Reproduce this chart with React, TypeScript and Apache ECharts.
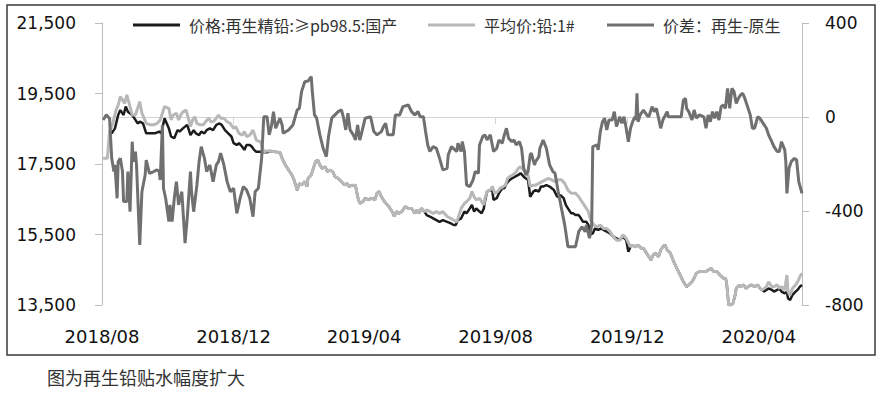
import React, { useEffect, useRef } from "react";
import * as echarts from "echarts";

// Day offsets are counted from 2018-08-01.
const NAME_RECYCLED = "价格:再生精铅:≥pb98.5:国产";
const NAME_AVG = "平均价:铅:1#";
const NAME_SPREAD = "价差：再生-原生";

const recycledDaysA = [7, 9, 12, 15, 17, 20, 22, 24, 28, 31, 33, 35, 38, 41, 45, 49, 53, 55, 58, 62, 64, 67, 70, 72, 75, 77, 79, 81, 82, 85, 87, 90, 92, 95, 97, 100, 103, 106, 109, 111, 114, 117, 120, 122, 125, 127, 130, 132, 134, 137, 139, 141, 143, 147, 150, 153, 156, 160, 165];
const recycledPriceA = [18420, 18370, 18510, 18890, 19030, 18890, 19130, 18980, 18890, 18750, 18650, 18700, 18650, 18370, 18370, 18370, 18420, 18370, 18800, 18510, 18280, 18230, 18460, 18420, 18510, 18560, 18610, 18420, 18320, 18460, 18370, 18320, 18420, 18370, 18460, 18510, 18460, 18610, 18650, 18610, 18460, 18370, 18280, 18090, 18040, 18090, 17990, 17900, 18040, 18040, 17990, 17900, 17850, 17850, 17830, 17830, 17870, 17850, 17830];

const avgDaysA = [1, 5, 7, 10, 13, 15, 17, 19, 21, 23, 26, 28, 31, 33, 35, 37, 39, 41, 45, 48, 51, 54, 56, 58, 62, 64, 66, 69, 71, 73, 75, 78, 80, 82, 84, 86, 88, 91, 94, 96, 99, 101, 103, 106, 108, 110, 113, 116, 119, 122, 124, 127, 130, 132, 134, 137, 140, 142, 143, 147, 150, 153, 156, 160, 165];
const avgPriceA = [17660, 17660, 18420, 18650, 19030, 19170, 19410, 19320, 19220, 19460, 19130, 18890, 18890, 19080, 19270, 18940, 18800, 18650, 18610, 18610, 18650, 18750, 18940, 19130, 19080, 18750, 18890, 18940, 18750, 18890, 18980, 19030, 18800, 18560, 18750, 18840, 18650, 18610, 18610, 18700, 18800, 18700, 18700, 18800, 18890, 18800, 18800, 18700, 18650, 18510, 18560, 18370, 18320, 18420, 18280, 18320, 18460, 18280, 18180, 18130, 17850, 17870, 17870, 17850, 17830];

// stretch where both price lines coincide
const sharedDaysB = [167, 170, 173, 176, 178, 181, 183, 185, 188, 190, 191, 194, 196, 198, 200, 202, 204, 207, 209, 211, 214, 216, 219, 222, 225, 227, 229, 232, 235, 237, 239, 242, 244, 247, 250, 253, 255, 257, 259, 262, 266, 269, 271, 273, 275, 278, 281, 284, 287, 290, 292, 294, 296, 299];
const sharedPriceB = [17660, 17470, 17330, 17190, 17050, 16760, 16950, 16900, 17000, 16860, 17090, 17190, 17380, 17570, 17610, 17470, 17380, 17420, 17280, 17330, 17280, 17140, 17090, 17000, 16900, 16950, 16860, 16900, 16900, 16570, 16380, 16430, 16530, 16480, 16530, 16480, 16670, 16720, 16570, 16430, 16290, 16150, 16010, 16150, 16100, 16150, 16290, 16240, 16240, 16100, 16200, 16100, 16240, 16150];

const recycledDaysC = [301, 304, 307, 310, 313, 316, 320, 323, 326, 328, 330, 333, 336, 338, 341, 343, 345, 347, 350, 352, 354, 355, 357, 360, 362, 363, 366, 368, 371, 373, 375, 378, 380, 383, 386, 388, 391, 393, 395, 397, 400, 402, 405, 407, 409, 412, 415, 417, 419, 422, 425, 428, 430, 432, 435, 437, 439, 442, 444, 446, 449, 451, 452, 455, 457, 460, 463, 465, 468, 471, 474, 477, 480, 483, 486, 488];
const recycledPriceC = [16050, 16010, 15960, 15910, 15860, 15910, 15860, 15820, 15770, 15770, 15910, 15960, 16150, 16100, 16240, 16340, 16150, 16240, 16150, 16100, 16240, 16430, 16720, 16760, 16720, 16480, 16530, 16670, 16810, 16810, 16950, 17050, 17090, 17140, 17190, 17240, 17140, 17090, 17050, 16570, 16720, 16760, 16720, 16860, 16860, 16900, 16860, 16810, 16760, 16570, 16620, 16530, 16340, 16240, 16100, 16100, 16050, 16050, 15960, 15860, 15860, 15770, 15490, 15530, 15670, 15630, 15670, 15630, 15580, 15530, 15440, 15390, 15340, 15440, 15340, 15010];

const avgDaysC = [301, 304, 307, 310, 313, 316, 320, 323, 326, 329, 331, 333, 336, 338, 341, 343, 345, 347, 350, 352, 354, 355, 357, 360, 362, 364, 367, 369, 372, 374, 376, 378, 381, 384, 386, 388, 391, 393, 395, 397, 400, 402, 405, 408, 411, 414, 417, 420, 423, 426, 429, 432, 435, 439, 442, 445, 448, 451, 453, 456, 459, 462, 465, 468, 471, 474, 477, 480, 483, 486];
const avgPriceC = [16200, 16150, 16100, 16150, 16100, 16150, 16010, 15960, 15910, 15860, 16050, 16240, 16380, 16430, 16530, 16720, 16570, 16480, 16530, 16430, 16340, 16530, 16720, 16760, 16860, 16670, 16720, 16810, 16860, 16900, 17090, 17140, 17190, 17280, 17380, 17420, 17330, 17280, 17190, 16860, 16900, 16900, 16950, 17000, 17050, 17090, 17050, 17000, 17050, 17050, 16950, 16760, 16670, 16670, 16570, 16430, 16290, 16150, 15910, 15770, 15720, 15770, 15670, 15670, 15580, 15440, 15340, 15340, 15490, 15390];

const sharedDaysD = [490, 492, 494, 497, 500, 502, 504, 507, 509, 511, 513, 516, 518, 520, 522, 524, 527, 530, 533, 536, 539, 542, 544, 547, 549, 551, 554, 557, 560, 562, 565, 567, 570, 573, 576, 578, 579, 581, 583, 585, 587, 588, 591, 592, 595, 597, 599, 602, 605, 608, 610, 612];
const sharedPriceD = [15150, 15200, 15150, 15200, 15110, 15110, 15010, 14870, 14780, 14920, 14970, 14870, 15060, 15150, 15200, 15060, 14970, 14730, 14540, 14350, 14160, 14020, 14070, 14160, 14260, 14400, 14450, 14450, 14450, 14490, 14540, 14450, 14450, 14350, 14260, 14260, 14160, 13500, 13500, 13550, 13780, 13970, 14070, 14020, 14070, 13970, 14020, 14070, 14020, 14070, 13970, 13930];

const tailDays = [614, 616, 618, 621, 623, 626, 628, 630, 633, 635, 636, 638, 640, 643, 645, 647, 649];
const recycledPriceE = [13880, 13930, 13970, 13930, 13880, 13930, 13970, 13880, 13830, 13880, 13690, 13640, 13780, 13880, 13930, 14020, 14070];
const avgPriceE = [13970, 14020, 14160, 14020, 14020, 14070, 13970, 14020, 13930, 14350, 13880, 13780, 13970, 14070, 14160, 14300, 14400];

const spreadDays = [1, 4, 7, 9, 11, 12, 14, 15, 17, 19, 20, 23, 24, 26, 28, 29, 31, 32, 35, 37, 40, 41, 44, 48, 51, 53, 54, 56, 57, 59, 62, 63, 65, 67, 69, 71, 74, 77, 79, 82, 83, 85, 88, 90, 92, 95, 97, 100, 103, 106, 108, 110, 113, 116, 119, 122, 125, 128, 131, 134, 137, 140, 142, 145, 148, 150, 153, 155, 157, 159, 161, 165, 167, 168, 173, 177, 181, 183, 185, 188, 191, 194, 195, 197, 199, 202, 205, 208, 210, 213, 216, 219, 222, 224, 226, 228, 230, 233, 235, 237, 239, 241, 244, 249, 252, 255, 259, 261, 263, 265, 270, 272, 276, 279, 284, 287, 290, 293, 295, 298, 300, 302, 304, 307, 310, 313, 316, 320, 321, 324, 329, 330, 333, 334, 336, 337, 338, 341, 344, 346, 349, 350, 353, 355, 357, 360, 363, 366, 368, 371, 373, 375, 377, 380, 382, 384, 387, 389, 391, 393, 395, 397, 398, 401, 402, 405, 406, 409, 412, 415, 418, 420, 423, 426, 429, 432, 439, 442, 445, 448, 449, 452, 454, 455, 459, 460, 462, 464, 466, 468, 470, 473, 475, 477, 480, 482, 484, 486, 488, 490, 492, 494, 495, 496, 497, 499, 502, 505, 507, 510, 512, 514, 516, 518, 520, 524, 525, 537, 539, 541, 542, 544, 547, 549, 551, 554, 558, 560, 562, 564, 566, 568, 570, 572, 574, 576, 578, 580, 582, 584, 586, 588, 590, 592, 594, 596, 599, 601, 603, 605, 608, 610, 613, 616, 618, 621, 623, 626, 628, 630, 633, 634, 635, 637, 639, 642, 644, 646, 649];
const spreadValues = [-13, 9, -6, -176, -232, -204, -346, -190, -176, -232, -360, -360, -232, -403, -105, -190, -147, -204, -544, -318, -247, -183, -240, -232, -225, -232, -268, -34, -303, -346, -445, -374, -445, -346, -275, -374, -318, -537, -431, -232, -318, -403, -289, -190, -126, -176, -232, -204, -275, -204, -190, -154, -204, -275, -318, -303, -410, -346, -296, -310, -346, -424, -318, -303, -176, 1, 1, -76, -41, 23, -48, -5, -34, -69, -55, -34, 30, 37, 108, 150, 153, 172, 108, 9, -5, -76, -133, -169, -83, -5, 9, 23, 30, -5, -55, 16, -55, -76, -98, -34, -98, -62, -5, 1, -62, -76, -62, -41, -27, -76, -76, 9, 9, 44, 51, 23, 9, 23, 1, 1, -62, -119, -147, -126, -133, -176, -225, -218, -161, -126, -147, -112, -147, -105, -147, -218, -289, -296, -268, -232, -239, -119, -83, -76, -98, -76, -147, -133, -98, -112, -76, -48, -91, -105, -98, -119, -105, -133, -218, -247, -232, -161, -154, -204, -190, -169, -133, -98, -133, -204, -232, -239, -318, -389, -459, -552, -552, -488, -467, -488, -459, -516, -459, -126, -119, -140, -62, -20, -5, -55, -13, -13, 23, -41, 1, -27, 1, -48, -105, -48, -20, 1, -13, 101, -20, 9, 30, 9, 1, 44, 23, 37, -5, -48, -13, 23, 1, 1, 72, 79, 37, 23, -13, 30, -5, 9, 1, -48, 9, -20, 23, -5, 23, -13, 44, 51, 37, 122, 37, 122, 108, 58, 79, 94, 101, 79, 37, 9, -48, -48, 1, -5, -27, -48, -76, -105, -126, -147, -147, -105, -140, -190, -325, -218, -190, -176, -183, -275, -325];

const xTickMonths = [[2018, 8], [2018, 12], [2019, 4], [2019, 8], [2019, 12], [2020, 4]];
const leftTicks = [13500, 15500, 17500, 19500, 21500];
const rightTicks = [-800, -400, 0, 400];
const X_LAST_DAY = 649;

const dayToTime = (d: number) => new Date(2018, 7, 1 + d).getTime();
const pairs = (days: number[], vals: number[]) => days.map((d, i) => [dayToTime(d), vals[i]]);

export default function App() {
  const ref = useRef<HTMLDivElement>(null);
  useEffect(() => {
    document.body.style.margin = "0";
    if (!ref.current) return;
    const chart = echarts.init(ref.current, undefined, { renderer: "svg" });
    const recycled = pairs(
      [...recycledDaysA, ...sharedDaysB, ...recycledDaysC, ...sharedDaysD, ...tailDays],
      [...recycledPriceA, ...sharedPriceB, ...recycledPriceC, ...sharedPriceD, ...recycledPriceE]
    );
    const avg = pairs(
      [...avgDaysA, ...sharedDaysB, ...avgDaysC, ...sharedDaysD, ...tailDays],
      [...avgPriceA, ...sharedPriceB, ...avgPriceC, ...sharedPriceD, ...avgPriceE]
    );
    const spread = pairs(spreadDays, spreadValues);
    const xTicks = xTickMonths.map(([y, m]) => new Date(y, m - 1, 1).getTime());
    const axisFont = { fontSize: 17, fontFamily: "DejaVu Sans", color: "#111" };
    const legendCommon = {
      top: 17,
      itemWidth: 47,
      itemHeight: 3,
      padding: 0,
      selectedMode: false,
      textStyle: { fontSize: 16, fontFamily: "Noto Sans CJK SC", color: "#333", padding: [0, 0, 0, 4] },
    };
    const colors = ["#1c1c1c", "#b8b8b8", "#707070"];
    chart.setOption({
      animation: false,
      backgroundColor: "#fff",
      grid: { left: 102, right: 84, top: 23, bottom: 93 },
      legend: [
        { ...legendCommon, left: 133, data: [{ name: NAME_RECYCLED, icon: "rect", itemStyle: { color: colors[0] } }] },
        { ...legendCommon, left: 428, data: [{ name: NAME_AVG, icon: "rect", itemStyle: { color: colors[1] } }] },
        { ...legendCommon, left: 607, data: [{ name: NAME_SPREAD, icon: "rect", itemStyle: { color: colors[2] } }] },
      ],
      xAxis: {
        type: "value",
        min: dayToTime(0),
        max: dayToTime(X_LAST_DAY),
        axisLine: { lineStyle: { color: "#d4d4d4", width: 1 } },
        axisTick: { show: true, customValues: xTicks, length: 7, lineStyle: { color: "#d4d4d4" } },
        axisLabel: {
          customValues: xTicks,
          margin: 22,
          fontSize: 18,
          fontFamily: "DejaVu Sans",
          color: "#111",
          formatter: (v: number) => {
            const d = new Date(v);
            return `${d.getFullYear()}/${String(d.getMonth() + 1).padStart(2, "0")}`;
          },
        },
        splitLine: { show: false },
      },
      yAxis: [
        {
          type: "value",
          min: 13500,
          max: 21500,
          axisLine: { show: true, lineStyle: { color: "#bdbdbd" } },
          axisTick: { show: true, customValues: leftTicks, length: 7, lineStyle: { color: "#bdbdbd" } },
          axisLabel: {
            ...axisFont,
            margin: 26,
            customValues: leftTicks,
            formatter: (v: number) => v.toLocaleString("en-US"),
          },
          splitLine: { show: false },
        },
        {
          type: "value",
          min: -800,
          max: 400,
          position: "right",
          axisLine: { show: true, lineStyle: { color: "#bdbdbd" } },
          axisTick: { show: true, customValues: rightTicks, length: 7, lineStyle: { color: "#bdbdbd" } },
          axisLabel: { ...axisFont, margin: 23, customValues: rightTicks },
          splitLine: { show: false },
        },
      ],
      series: [
        {
          name: NAME_RECYCLED,
          type: "line",
          data: recycled,
          symbol: "none",
          yAxisIndex: 0,
          lineStyle: { color: colors[0], width: 2.5 },
          itemStyle: { color: colors[0] },
        },
        {
          name: NAME_AVG,
          type: "line",
          data: avg,
          symbol: "none",
          yAxisIndex: 0,
          lineStyle: { color: colors[1], width: 3 },
          itemStyle: { color: colors[1] },
        },
        {
          name: NAME_SPREAD,
          type: "line",
          data: spread,
          symbol: "none",
          yAxisIndex: 1,
          lineStyle: { color: colors[2], width: 3 },
          itemStyle: { color: colors[2] },
        },
      ],
      graphic: [
        {
          type: "rect",
          shape: { x: 7, y: 5, width: 868, height: 350 },
          style: { fill: "none", stroke: "#3a3a3a", lineWidth: 1.5 },
          silent: true,
          z: -1,
        },
        {
          type: "text",
          x: 47,
          y: 377,
          style: {
            text: "图为再生铅贴水幅度扩大",
            fontSize: 18,
            fontFamily: "Noto Sans CJK SC",
            fill: "#333",
            verticalAlign: "middle",
          },
        },
      ],
    });
    return () => chart.dispose();
  }, []);
  return <div ref={ref} style={{ width: 886, height: 398 }} />;
}
